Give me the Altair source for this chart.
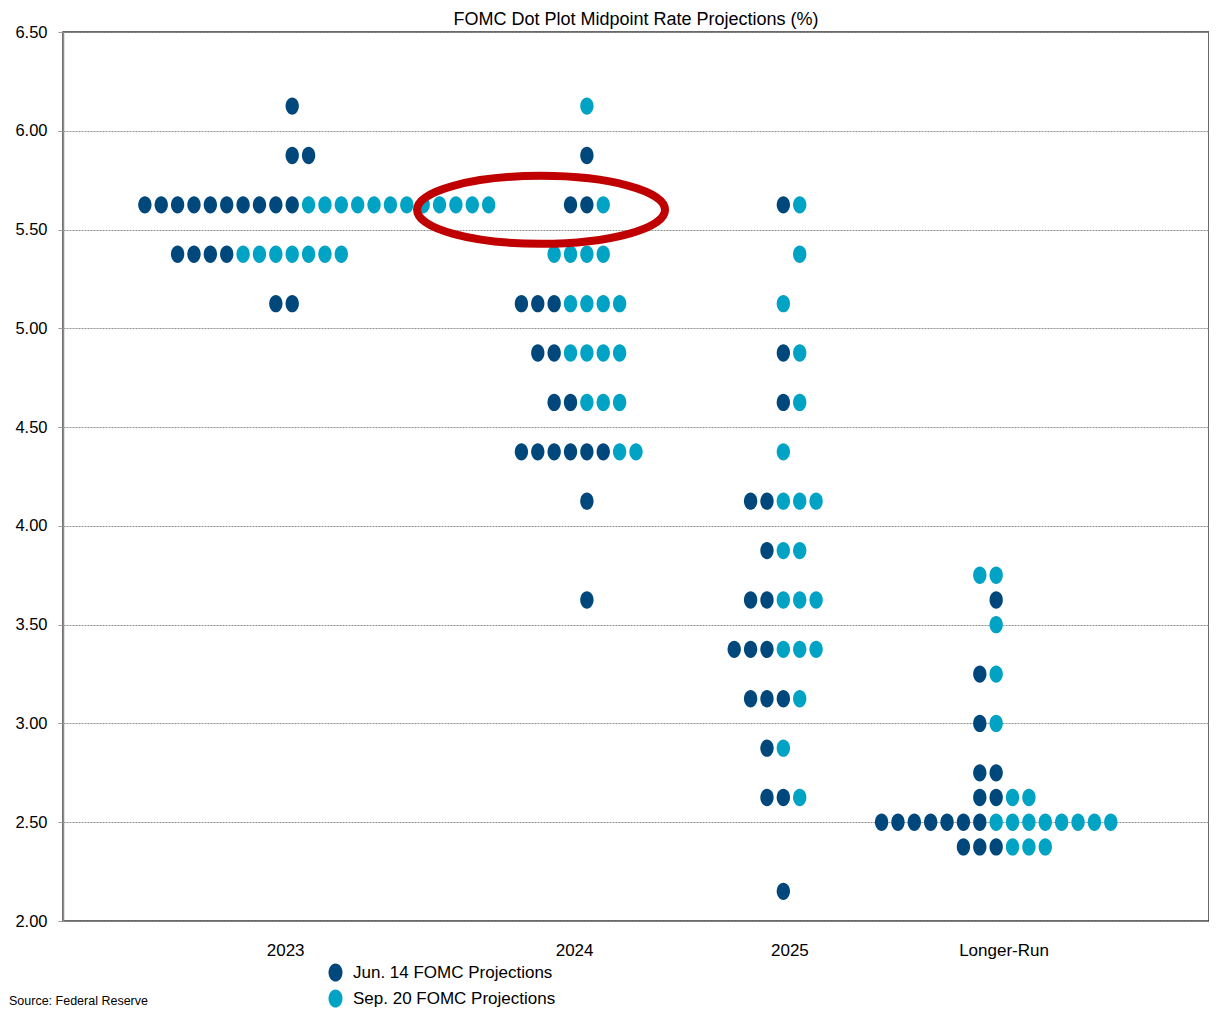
import altair as alt
import pandas as pd

# ---------------- data ----------------
columns = ["2023", "2024", "2025", "Longer-Run"]
series_names = ["Jun. 14 FOMC Projections", "Sep. 20 FOMC Projections"]
title_text = "FOMC Dot Plot Midpoint Rate Projections (%)"
source_text = ["Source: Federal Reserve"]

rates_2023 = [6.125, 5.875, 5.625, 5.375, 5.125]
jun_2023 = [1, 2, 10, 4, 2]
sep_2023 = [0, 0, 12, 7, 0]

rates_2024 = [6.125, 5.875, 5.625, 5.375, 5.125, 4.875, 4.625, 4.375, 4.125, 3.625]
jun_2024 = [0, 1, 2, 0, 3, 2, 2, 6, 1, 1]
sep_2024 = [1, 0, 1, 4, 4, 4, 3, 2, 0, 0]

rates_2025 = [5.625, 5.375, 5.125, 4.875, 4.625, 4.375, 4.125, 3.875, 3.625,
              3.375, 3.125, 2.875, 2.625, 2.15]
jun_2025 = [1, 0, 0, 1, 1, 0, 2, 1, 2, 3, 3, 1, 2, 1]
sep_2025 = [1, 1, 1, 1, 1, 1, 3, 2, 3, 3, 1, 1, 1, 0]

rates_lr = [3.75, 3.625, 3.5, 3.25, 3.0, 2.75, 2.625, 2.5, 2.375]
jun_lr = [0, 1, 0, 1, 1, 2, 2, 7, 3]
sep_lr = [2, 0, 1, 1, 1, 0, 2, 8, 3]

y_ticks = [2.0, 2.5, 3.0, 3.5, 4.0, 4.5, 5.0, 5.5, 6.0, 6.5]

# ---------------- layout (dot slots along the x axis) ----------------
anchor_slot = {"2023": 14, "2024": 32, "2025": 44, "Longer-Run": 57}
label_slot = {"2023": 13.57, "2024": 31.22, "2025": 44.37, "Longer-Run": 57.45}
row_start = {
    "2023": [0, 0, -9, -7, -1],
    "2024": [0, 0, -1, -2, -4, -3, -2, -4, 0, 0],
    "2025": [0, 1, 0, 0, 0, 0, -2, -1, -2, -3, -2, -1, -1, 0],
    "Longer-Run": [-1, 0, 0, -1, -1, -1, -1, -7, -2],
}
highlight = {"slot": [29.2], "rate": [5.6]}  # red ellipse annotation centre

col_data = {
    "2023": (rates_2023, jun_2023, sep_2023),
    "2024": (rates_2024, jun_2024, sep_2024),
    "2025": (rates_2025, jun_2025, sep_2025),
    "Longer-Run": (rates_lr, jun_lr, sep_lr),
}

rows = []
for col in columns:
    rates, jun, sep = col_data[col]
    for i, r in enumerate(rates):
        start = anchor_slot[col] + row_start[col][i]
        k = 0
        for _ in range(jun[i]):
            rows.append({"column": col, "slot": start + k, "rate": r, "series": series_names[0]})
            k += 1
        for _ in range(sep[i]):
            rows.append({"column": col, "slot": start + k, "rate": r, "series": series_names[1]})
            k += 1
dots = pd.DataFrame(rows)

FONT = "Liberation Sans, Arial, Helvetica, sans-serif"
DARK = "#00487C"
TEAL = "#00A3C4"
DOT = "M0,-1 A0.77,1,0,1,1,0,1 A0.77,1,0,1,1,0,-1 Z"
RING = "M-1,0 A1,0.274,0,1,1,1,0 A1,0.274,0,1,1,-1,0 Z"

label_expr = " : ".join(
    f"datum.value < {label_slot[c] + 1} ? '{c}'" for c in columns[:-1]
) + f" : '{columns[-1]}'"

x_scale = alt.Scale(domain=[0, 70], nice=False, zero=False)
y_scale = alt.Scale(domain=[2.0, 6.5], nice=False, zero=False)

points = alt.Chart(dots).mark_point(
    shape=DOT, filled=True, size=300, opacity=1, strokeWidth=0
).encode(
    x=alt.X("slot:Q", scale=x_scale, title=None,
            axis=alt.Axis(values=[label_slot[c] for c in columns], labelExpr=label_expr,
                          ticks=False, tickSize=0, grid=False, domain=False,
                          labelPadding=21, labelFontSize=17)),
    y=alt.Y("rate:Q", scale=y_scale, title=None,
            axis=alt.Axis(values=y_ticks, format=".2f", grid=True, gridDash=[2, 1],
                          gridColor="#8f8f8f", gridWidth=1, tickSize=5, tickColor="#9a9a9a",
                          labelPadding=11, labelFontSize=16.5, domainColor="#8c8c8c",
                          domainWidth=1.5)),
    color=alt.Color("series:N", scale=alt.Scale(domain=series_names, range=[DARK, TEAL]),
                    legend=alt.Legend(title=None, orient="none", legendX=263, legendY=931,
                                      symbolType=DOT, symbolSize=330, symbolStrokeWidth=0,
                                      symbolOpacity=1, labelFontSize=17, labelOffset=8,
                                      labelLimit=500, rowPadding=7, padding=0)),
)

ring = alt.Chart(pd.DataFrame(highlight)).mark_point(
    shape=RING, filled=False, size=61504, stroke="#C00000", strokeWidth=8, opacity=1
).encode(
    x=alt.X("slot:Q", title=None),
    y=alt.Y("rate:Q", title=None),
)

source = alt.Chart(pd.DataFrame({"text": source_text})).mark_text(
    align="left", baseline="alphabetic", fontSize=12.5, font=FONT, color="#000000"
).encode(
    x=alt.value(-54),
    y=alt.value(973),
    text="text:N",
)

chart = alt.layer(points, ring, source).properties(
    width=1146,
    height=889,
    autosize=alt.AutoSizeParams(type="none"),
    padding={"left": 55, "top": 24, "right": 0, "bottom": 87},
    title=alt.Title(title_text, fontSize=18, font=FONT, fontWeight="normal",
                    color="#000000", anchor="middle", offset=-5),
).configure_axis(
    labelFont=FONT, labelColor="#000000"
).configure_legend(
    labelFont=FONT, labelColor="#000000"
).configure_view(
    stroke="#3a3a3a", strokeWidth=1.5
)

chart.save("out.html", embed_options={"renderer": "svg", "actions": False})
